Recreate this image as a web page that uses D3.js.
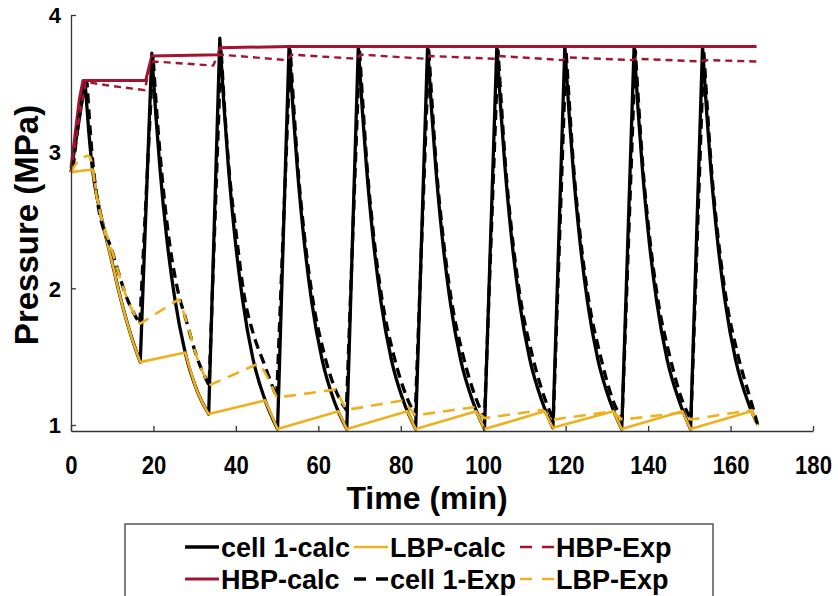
<!DOCTYPE html>
<html>
<head>
<meta charset="utf-8">
<script src="https://cdn.jsdelivr.net/npm/d3@7"></script>
<style>
  html, body { margin: 0; padding: 0; background: #fff; }
  svg { display: block; }
  text { font-family: "Liberation Sans", Arial, sans-serif; font-weight: bold; fill: #000; }
</style>
</head>
<body>
<script>
// ---------------- data ----------------
const xTicks = [0, 20, 40, 60, 80, 100, 120, 140, 160, 180];
const yTicks = [1, 2, 3, 4];
const xLabel = "Time (min)";
const yLabel = "Pressure (MPa)";

// cell 1-calc (black solid)
const cell1Calc = [
  [0, 2.85], [3.4, 3.51], [4.3, 3.15], [5.2, 2.87], [7, 2.57], [9.5, 2.25], [12, 1.93], [14.5, 1.66], [16.8, 1.46],
  [19.6, 3.72], [20.6, 3.26], [21.6, 2.87], [23.1, 2.40], [25.1, 1.94], [27.7, 1.53], [30.6, 1.25], [33.4, 1.08],
  [36.1, 3.83], [37.1, 3.34], [38.1, 2.92], [39.6, 2.42], [41.6, 1.92], [44.1, 1.49], [47.1, 1.18], [50.1, 0.97],
  [52.9, 3.77], [53.9, 3.29], [54.9, 2.88], [56.4, 2.39], [58.4, 1.90], [60.9, 1.48], [63.9, 1.17], [66.9, 0.97],
  [69.7, 3.77], [70.7, 3.29], [71.7, 2.88], [73.2, 2.39], [75.2, 1.90], [77.7, 1.48], [80.7, 1.17], [83.6, 0.97],
  [86.5, 3.77], [87.5, 3.29], [88.5, 2.88], [90.0, 2.39], [92.0, 1.90], [94.5, 1.48], [97.5, 1.17], [100.3, 0.97],
  [103.3, 3.77], [104.3, 3.29], [105.3, 2.88], [106.8, 2.39], [108.8, 1.90], [111.3, 1.48], [114.3, 1.17], [116.9, 0.98],
  [119.8, 3.77], [120.8, 3.29], [121.8, 2.88], [123.3, 2.39], [125.3, 1.90], [127.8, 1.48], [130.8, 1.17], [133.6, 0.97],
  [136.6, 3.77], [137.6, 3.29], [138.6, 2.88], [140.1, 2.39], [142.1, 1.90], [144.6, 1.48], [147.6, 1.17], [150.3, 0.97],
  [153.2, 3.77], [154.2, 3.29], [155.2, 2.88], [156.7, 2.39], [158.7, 1.90], [161.2, 1.48], [164.2, 1.17], [166.3, 1.02]
];

// HBP-calc (red solid)
const hbpCalc = [
  [0, 2.88], [2.0, 3.38], [2.9, 3.52], [18.1, 3.52], [19.6, 3.70], [35.7, 3.71], [36.2, 3.76], [52.9, 3.77], [166.3, 3.77]
];

// LBP-calc (yellow solid)
const lbpCalc = [
  [0, 2.85], [5.2, 2.87], [7, 2.57], [9.5, 2.25], [12, 1.93], [14.5, 1.66], [16.8, 1.46],
  [27.7, 1.53], [30.6, 1.25], [33.4, 1.08],
  [47.1, 1.18], [50.1, 0.97],
  [64.9, 1.10], [66.9, 0.97],
  [81.6, 1.10], [83.6, 0.97],
  [98.3, 1.10], [100.3, 0.97],
  [114.9, 1.10], [116.9, 0.98],
  [131.6, 1.10], [133.6, 0.97],
  [148.3, 1.10], [150.3, 0.97],
  [165.0, 1.10], [166.3, 1.02]
];

// cell 1-Exp (black dashed)
const cell1Exp = [
  [0.5, 2.88], [2.5, 3.35], [3.9, 3.50], [5.0, 3.02], [6.4, 2.64], [9.9, 2.28], [13.8, 1.91], [16.7, 1.74],
  [19.9, 3.70], [20.9, 3.25], [22.0, 2.85], [23.6, 2.40], [25.8, 2.00], [28.0, 1.76], [30.5, 1.50], [33.5, 1.29],
  [36.4, 3.75], [37.4, 3.25], [38.4, 2.85], [40.0, 2.42], [42.0, 1.95], [44.3, 1.66], [46.7, 1.46], [49.9, 1.20],
  [53.2, 3.74], [54.1, 3.30], [55.0, 2.90], [56.5, 2.42], [58.6, 1.93], [61.5, 1.51], [64.7, 1.22], [66.8, 1.11],
  [70.0, 3.74], [70.9, 3.30], [71.8, 2.90], [73.3, 2.42], [75.4, 1.93], [78.3, 1.51], [81.5, 1.20], [83.5, 1.07],
  [86.8, 3.74], [87.7, 3.30], [88.6, 2.90], [90.1, 2.42], [92.2, 1.93], [95.1, 1.51], [98.3, 1.19], [100.3, 1.05],
  [103.6, 3.74], [104.5, 3.30], [105.4, 2.90], [106.9, 2.42], [109.0, 1.93], [111.9, 1.51], [115.1, 1.18], [117.0, 1.04],
  [120.1, 3.74], [121.0, 3.30], [121.9, 2.90], [123.4, 2.42], [125.5, 1.93], [128.4, 1.51], [131.6, 1.17], [133.7, 1.04],
  [136.9, 3.74], [137.8, 3.30], [138.7, 2.90], [140.2, 2.42], [142.3, 1.93], [145.2, 1.51], [148.4, 1.17], [150.4, 1.04],
  [153.5, 3.74], [154.4, 3.30], [155.3, 2.90], [156.8, 2.42], [158.9, 1.93], [161.8, 1.51], [165.0, 1.17], [166.6, 1.00]
];

// HBP-Exp (red dashed)
const hbpExp = [
  [0, 2.85], [2.0, 3.25], [3.6, 3.51], [10, 3.48], [17.9, 3.45], [19.2, 3.64], [20.0, 3.66], [34.5, 3.63],
  [35.5, 3.70], [36.3, 3.71], [52.3, 3.67], [53.5, 3.71], [69.2, 3.68], [70.3, 3.71], [86.0, 3.68], [87.0, 3.70],
  [102.8, 3.68], [103.8, 3.70], [119.3, 3.67], [120.3, 3.69], [136.1, 3.67], [137.1, 3.68], [152.7, 3.66],
  [153.7, 3.67], [166.6, 3.66]
];

// LBP-Exp (yellow dashed)
const lbpExp = [
  [0, 2.85], [1.7, 2.93], [4.0, 2.97], [4.6, 2.96], [6.4, 2.64], [9.9, 2.28], [13.8, 1.91], [16.7, 1.74],
  [26.2, 1.92], [28.0, 1.76], [30.5, 1.50], [33.5, 1.29],
  [45.5, 1.45], [47.5, 1.36], [49.9, 1.20],
  [64.2, 1.26], [66.8, 1.11],
  [80.6, 1.18], [83.5, 1.07],
  [97.6, 1.13], [100.3, 1.05],
  [114.4, 1.11], [117.0, 1.04],
  [131.3, 1.10], [133.7, 1.04],
  [148.3, 1.09], [150.4, 1.04],
  [165.2, 1.11], [166.6, 1.00]
];

const seriesNames = ["cell 1-calc", "HBP-calc", "LBP-calc", "cell 1-Exp", "HBP-Exp", "LBP-Exp"];

// ---------------- styles ----------------
const RED = "#a2142f", YEL = "#edb120", BLK = "#000000";
const styles = {
  "cell 1-calc": { color: BLK, width: 3.3, dash: null, smooth: true },
  "HBP-calc":    { color: RED, width: 3.0, dash: null, smooth: false },
  "LBP-calc":    { color: YEL, width: 2.6, dash: null, smooth: true },
  "cell 1-Exp":  { color: BLK, width: 3.3, dash: "10,6", smooth: true },
  "HBP-Exp":     { color: RED, width: 2.4, dash: "7,5", smooth: false },
  "LBP-Exp":     { color: YEL, width: 2.6, dash: "12,8", smooth: true }
};
const seriesData = {
  "cell 1-calc": cell1Calc, "HBP-calc": hbpCalc, "LBP-calc": lbpCalc,
  "cell 1-Exp": cell1Exp, "HBP-Exp": hbpExp, "LBP-Exp": lbpExp
};

// ---------------- chart ----------------
const W = 838, H = 596;
const svg = d3.select("body").append("svg").attr("width", W).attr("height", H);
svg.append("rect").attr("width", W).attr("height", H).attr("fill", "#fff");

const x = d3.scaleLinear().domain([0, 180]).range([71, 813]);
const y = d3.scaleLinear().domain([0.956, 4]).range([431, 15]);

// split a polyline into monotone runs so peaks/troughs stay sharp
function runs(pts) {
  const out = [];
  let cur = [pts[0]];
  let dir = 0;
  for (let i = 1; i < pts.length; i++) {
    const d = Math.sign(pts[i][1] - pts[i - 1][1]);
    if (dir !== 0 && d !== 0 && d !== dir) {
      out.push(cur);
      cur = [pts[i - 1]];
    }
    if (d !== 0) dir = d;
    cur.push(pts[i]);
  }
  out.push(cur);
  return out;
}
const lineSmooth = d3.line().x(d => x(d[0])).y(d => y(d[1])).curve(d3.curveMonotoneX);
const lineLin = d3.line().x(d => x(d[0])).y(d => y(d[1])).curve(d3.curveLinear);

const plot = svg.append("g");
seriesNames.forEach(name => {
  const st = styles[name];
  const pts = seriesData[name];
  let d;
  if (st.smooth) {
    d = runs(pts).map((r, i) => {
      const s = lineSmooth(r);
      return i ? s.replace(/^M/, "L") : s;
    }).join("");
  } else {
    d = lineLin(pts);
  }
  plot.append("path")
    .attr("d", d)
    .attr("fill", "none")
    .attr("stroke", st.color)
    .attr("stroke-width", st.width)
    .attr("stroke-linejoin", "round")
    .attr("stroke-dasharray", st.dash);
});

// axes
const axisColor = "#333";
const gx = svg.append("g").attr("transform", `translate(0,${y.range()[0]})`)
  .call(d3.axisBottom(x).tickValues(xTicks).tickFormat(d3.format("d")).tickSizeInner(-5).tickSizeOuter(0));
gx.select(".domain").attr("stroke", axisColor).attr("stroke-width", 1.3);
gx.selectAll(".tick line").attr("stroke", axisColor).attr("stroke-width", 1.3);
gx.selectAll(".tick text")
  .attr("y", 43).attr("dy", null)
  .attr("font-size", 26).attr("font-family", "Liberation Sans, Arial, sans-serif")
  .attr("font-weight", "bold").attr("fill", "#000")
  .attr("transform", "scale(0.85,1)");

const gy = svg.append("g").attr("transform", `translate(${x.range()[0]},0)`)
  .call(d3.axisLeft(y).tickValues(yTicks).tickFormat(d3.format("d")).tickSizeInner(-5).tickSizeOuter(0));
gy.select(".domain").attr("stroke", axisColor).attr("stroke-width", 1.3);
gy.selectAll(".tick text")
  .attr("x", -10).attr("dy", "0.36em")
  .attr("font-size", 22).attr("font-family", "Liberation Sans, Arial, sans-serif")
  .attr("font-weight", "bold").attr("fill", "#000");
gy.selectAll(".tick line").attr("stroke", axisColor).attr("stroke-width", 1.3);

// axis titles
svg.append("text")
  .attr("x", 427).attr("y", 509)
  .attr("text-anchor", "middle")
  .attr("font-size", 32)
  .text(xLabel);

svg.append("text")
  .attr("transform", "translate(38,225) rotate(-90)")
  .attr("text-anchor", "middle")
  .attr("font-size", 33)
  .text(yLabel);

// legend
const leg = svg.append("g");
leg.append("rect")
  .attr("x", 125).attr("y", 524).attr("width", 588).attr("height", 90)
  .attr("fill", "#fff").attr("stroke", "#555").attr("stroke-width", 1.5);

const legendOrder = ["cell 1-calc", "LBP-calc", "HBP-Exp", "HBP-calc", "cell 1-Exp", "LBP-Exp"];
const colX = [185, 354, 520];
const rowY = [547, 579];
legendOrder.forEach((name, i) => {
  const st = styles[name];
  const cx = colX[i % 3], cy = rowY[Math.floor(i / 3)];
  leg.append("line")
    .attr("x1", cx).attr("x2", cx + 34).attr("y1", cy).attr("y2", cy)
    .attr("stroke", st.color).attr("stroke-width", st.width)
    .attr("stroke-dasharray", st.dash ? "12,10" : null);
  leg.append("text")
    .attr("x", cx + 36).attr("y", cy).attr("dy", "0.36em")
    .attr("font-size", 27)
    .text(name);
});
</script>
</body>
</html>
